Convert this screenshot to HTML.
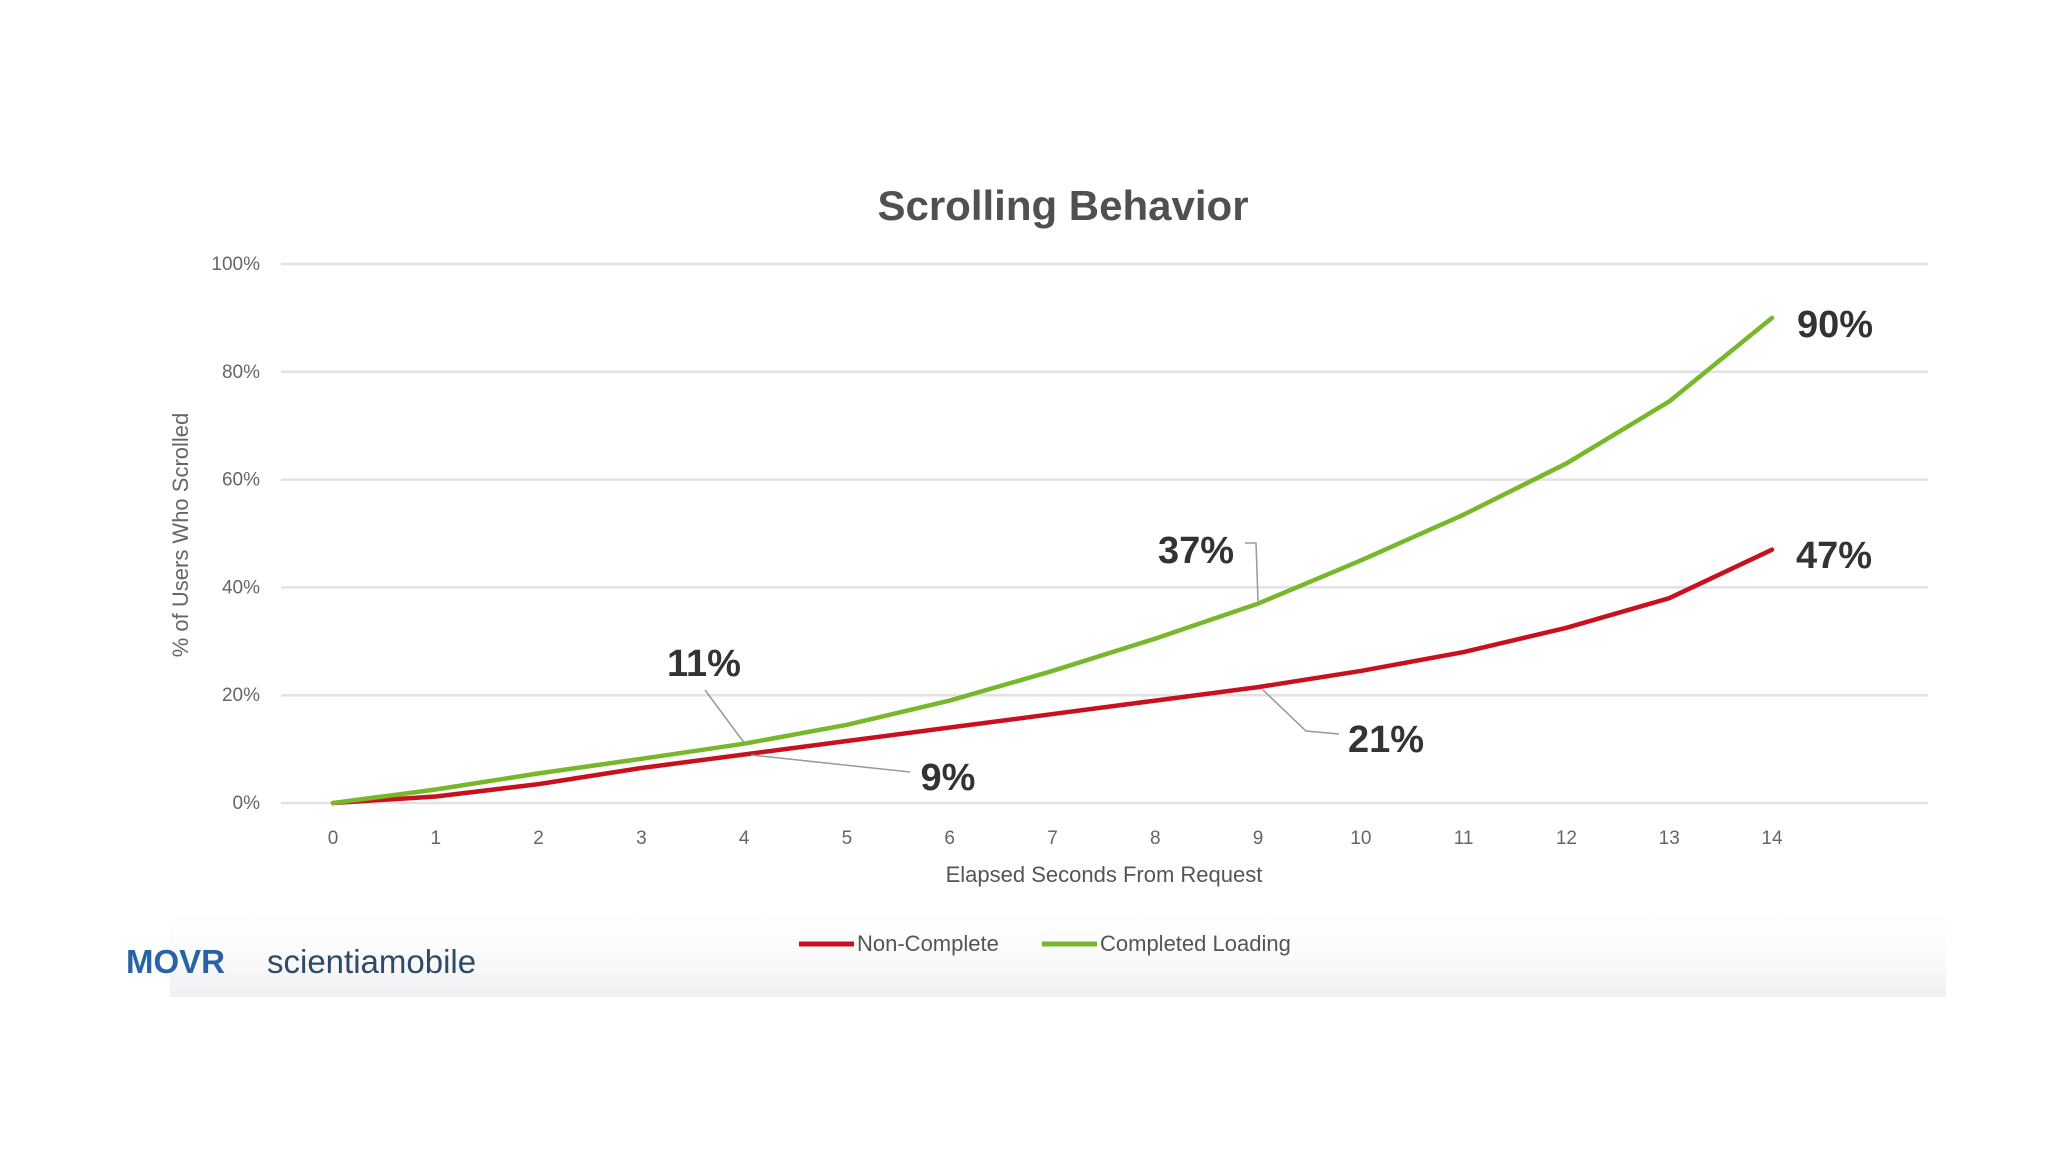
<!DOCTYPE html>
<html><head><meta charset="utf-8"><style>
html,body{margin:0;padding:0;background:#fff;}
svg{display:block;font-family:"Liberation Sans",sans-serif;}
</style></head><body>
<svg id="chart" width="2048" height="1152" viewBox="0 0 2048 1152">
<defs>
<linearGradient id="bg" x1="0" y1="0" x2="0" y2="1">
<stop offset="0" stop-color="#fff" stop-opacity="0"/>
<stop offset="1" stop-color="#f0f0f2"/>
</linearGradient>
</defs>
<rect x="170" y="900" width="1776" height="97" fill="url(#bg)"/>
<text x="1063" y="220" text-anchor="middle" font-size="42" font-weight="bold" fill="#505050">Scrolling Behavior</text>
<g id="grid"></g>
<g id="yticks"></g>
<g id="xticks"></g>
<text transform="translate(188,535) rotate(-90)" text-anchor="middle" font-size="22" fill="#666">% of Users Who Scrolled</text>
<text x="1104" y="882" text-anchor="middle" font-size="22" fill="#555">Elapsed Seconds From Request</text>
<g id="series"></g>
<g font-weight="bold" font-size="38" fill="#333" stroke="none">
<polyline points="705,690 745,744" fill="none" stroke="#999" stroke-width="1.5"/>
<polyline points="751,755 910,772" fill="none" stroke="#999" stroke-width="1.5"/>
<polyline points="1245,543 1256,543 1258,601" fill="none" stroke="#999" stroke-width="1.5"/>
<polyline points="1263,690 1306,731 1339,734" fill="none" stroke="#999" stroke-width="1.5"/>
<text x="704" y="676" text-anchor="middle">11%</text>
<text x="948" y="790" text-anchor="middle">9%</text>
<text x="1196" y="563" text-anchor="middle">37%</text>
<text x="1386" y="752" text-anchor="middle">21%</text>
<text x="1835" y="337" text-anchor="middle">90%</text>
<text x="1834" y="568" text-anchor="middle">47%</text>
</g>
<g>
<g>
<line x1="799" y1="944" x2="854" y2="944" stroke="#c8101e" stroke-width="5"/>
<text x="857" y="951" font-size="22" fill="#555">Non-Complete</text>
</g>
<g>
<line x1="1042" y1="944" x2="1097" y2="944" stroke="#77b82a" stroke-width="5"/>
<text x="1100" y="951" font-size="22" fill="#555">Completed Loading</text>
</g>
</g>
<text x="126" y="973" font-size="33" font-weight="bold" fill="#2a62a8">MOVR</text>
<text x="267" y="973" font-size="33" fill="#2e4a6a">scientiamobile</text>
</svg>
<script>
const categories = [0,1,2,3,4,5,6,7,8,9,10,11,12,13,14];
const nonComplete = [0,1.2,3.5,6.5,9,11.5,14,16.5,19,21.5,24.5,28,32.5,38,47];
const completedLoading = [0,2.5,5.5,8.2,11,14.5,19,24.5,30.5,37,45,53.5,63,74.5,90];
const yTicks = [0,20,40,60,80,100];

const NS = "http://www.w3.org/2000/svg";
const x = v => 333 + (v - 0) * (1772 - 333) / 14;
const y = v => 803 - v * (803 - 264) / 100;

const grid = document.getElementById('grid');
const yt = document.getElementById('yticks');
yTicks.forEach(t => {
  const l = document.createElementNS(NS, 'line');
  l.setAttribute('x1', 281); l.setAttribute('x2', 1928);
  l.setAttribute('y1', y(t)); l.setAttribute('y2', y(t));
  l.setAttribute('stroke', '#e2e2e4'); l.setAttribute('stroke-width', 2.5);
  
  
  grid.appendChild(l);
  const tx = document.createElementNS(NS, 'text');
  tx.setAttribute('x', 260); tx.setAttribute('y', y(t) + 6);
  tx.setAttribute('text-anchor', 'end'); tx.setAttribute('font-size', 19);
  tx.setAttribute('fill', '#666');
  tx.textContent = t + '%';
  
  
  yt.appendChild(tx);
});
const xt = document.getElementById('xticks');
categories.forEach(c => {
  const tx = document.createElementNS(NS, 'text');
  tx.setAttribute('x', x(c)); tx.setAttribute('y', 844);
  tx.setAttribute('text-anchor', 'middle'); tx.setAttribute('font-size', 19);
  tx.setAttribute('fill', '#666');
  tx.textContent = c;
  
  
  xt.appendChild(tx);
});
const series = document.getElementById('series');
function drawLine(vals, color, name) {
  const p = document.createElementNS(NS, 'polyline');
  p.setAttribute('points', vals.map((v, i) => x(categories[i]) + ',' + y(v)).join(' '));
  p.setAttribute('fill', 'none'); p.setAttribute('stroke', color);
  p.setAttribute('stroke-width', 4.5); p.setAttribute('stroke-linejoin', 'round');
  p.setAttribute('stroke-linecap', 'round');
  
  
  series.appendChild(p);
}
drawLine(nonComplete, '#c8101e', 'non-complete-line');
drawLine(completedLoading, '#77b82a', 'completed-loading-line');
</script>
</body></html>
